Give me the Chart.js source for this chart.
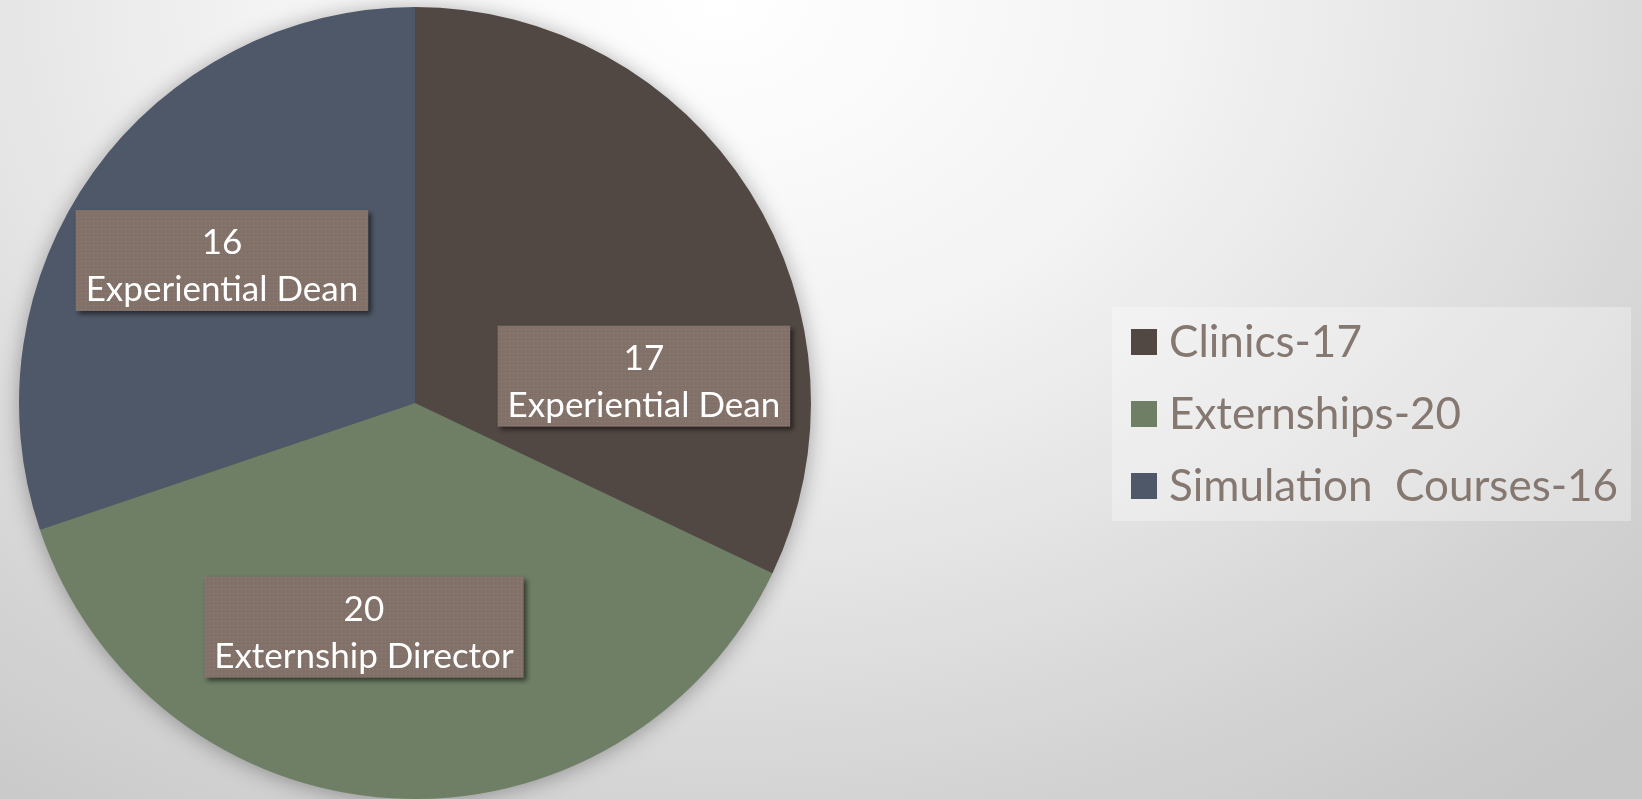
<!DOCTYPE html>
<html>
<head>
<meta charset="utf-8">
<script src="https://cdn.jsdelivr.net/npm/chart.js@4.4.1/dist/chart.umd.min.js"></script>
<style>
  html, body {
    margin: 0;
    padding: 0;
    overflow: hidden;
  }
  body {
    width: 1642px;
    height: 799px;
    background: radial-gradient(ellipse 1300px 1000px at 720px 0px, #ffffff 0%, #f3f3f3 35%, #e4e4e4 58%, #d4d4d4 80%, #c8c8c8 100%);
  }
  #wrap {
    position: absolute;
    left: 0;
    top: 0;
    width: 1642px;
    height: 799px;
  }
</style>
</head>
<body>
<div id="wrap"><canvas id="pieChart" width="1642" height="799"></canvas></div>
<script>
// data
const categories = ["Clinics-17", "Externships-20", "Simulation  Courses-16"];
const counts = [17, 20, 16];
const owners = ["Experiential Dean", "Externship Director", "Experiential Dean"];

const sliceColors = ["#524843", "#6e7f65", "#4f5868"];

// nudges for the callout boxes (they were dragged by hand in the original)
const labelOffsets = [[28, 100], [-37, -13], [0, -4]];

document.addEventListener("DOMContentLoaded", () => {
  const ctx = document.getElementById("pieChart").getContext("2d");

  // small dotted fill for the label boxes
  const makeDots = () => {
    const c = document.createElement("canvas");
    c.width = 4;
    c.height = 4;
    const g = c.getContext("2d");
    g.fillStyle = "#827169";
    g.fillRect(0, 0, 4, 4);
    g.fillStyle = "#8e827b";
    g.fillRect(1, 1, 1, 1);
    return ctx.createPattern(c, "repeat");
  };
  const dots = makeDots();

  // soft shadow under the whole pie
  const pieShadow = {
    id: "pieShadow",
    beforeDatasetsDraw(chart) {
      const arc = chart.getDatasetMeta(0).data[0];
      if (!arc) return;
      const c = chart.ctx;
      c.save();
      c.shadowColor = "rgba(0,0,0,0.35)";
      c.shadowBlur = 22;
      c.shadowOffsetX = 0;
      c.shadowOffsetY = 2;
      c.fillStyle = "#555";
      c.beginPath();
      c.arc(arc.x, arc.y, arc.outerRadius - 1, 0, Math.PI * 2);
      c.fill();
      c.restore();
    }
  };

  // callout boxes: value + owner
  const calloutLabels = {
    id: "calloutLabels",
    afterDatasetsDraw(chart) {
      const c = chart.ctx;
      const meta = chart.getDatasetMeta(0);
      meta.data.forEach((arc, i) => {
        const mid = (arc.startAngle + arc.endAngle) / 2;
        const r = arc.outerRadius * 0.6;
        const cx = arc.x + Math.cos(mid) * r + labelOffsets[i][0];
        const cy = arc.y + Math.sin(mid) * r + labelOffsets[i][1];

        c.save();
        c.font = "35px Lato";
        const w = c.measureText(owners[i]).width + 20;
        const h = 101;
        const left = cx - w / 2;
        const top = cy - h / 2;

        c.shadowColor = "rgba(0,0,0,0.55)";
        c.shadowBlur = 5;
        c.shadowOffsetX = 3;
        c.shadowOffsetY = 3;
        c.fillStyle = dots;
        c.fillRect(left, top, w, h);
        c.shadowColor = "transparent";

        c.fillStyle = "#ffffff";
        c.textAlign = "center";
        c.textBaseline = "alphabetic";
        c.fillText(String(counts[i]), cx, top + 44);
        c.fillText(owners[i], cx, top + 91);
        c.restore();
      });
    }
  };

  // legend box on the right
  const sideLegend = {
    id: "sideLegend",
    afterDraw(chart) {
      const c = chart.ctx;
      c.save();
      c.fillStyle = "rgba(255,255,255,0.3)";
      c.fillRect(1112, 307, 519, 214);
      c.font = "44px Lato";
      c.textBaseline = "middle";
      categories.forEach((name, i) => {
        const y = 342 + i * 72;
        c.fillStyle = sliceColors[i];
        c.fillRect(1131, y - 13, 26, 26);
        c.fillStyle = "#857870";
        c.fillText(name, 1169, y + 1);
      });
      c.restore();
    }
  };

  new Chart(ctx, {
    type: "pie",
    data: {
      labels: categories,
      datasets: [{
        data: counts,
        backgroundColor: sliceColors,
        borderWidth: 0
      }]
    },
    options: {
      responsive: false,
      animation: false,
      devicePixelRatio: 1,
      layout: {
        padding: { left: 19, right: 831, top: 7, bottom: 0 }
      },
      plugins: {
        legend: { display: false },
        tooltip: { enabled: false }
      }
    },
    plugins: [pieShadow, calloutLabels, sideLegend]
  });
});
</script>
</body>
</html>
